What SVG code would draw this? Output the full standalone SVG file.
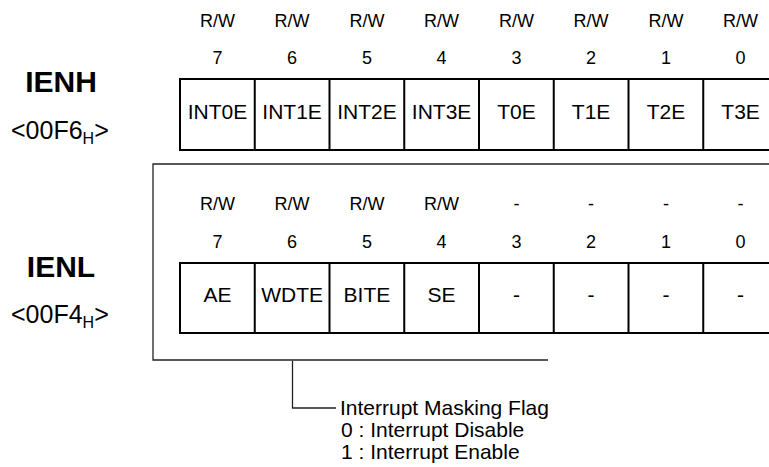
<svg xmlns="http://www.w3.org/2000/svg" width="769" height="467" viewBox="0 0 769 467">
<style>
text{font-family:"Liberation Sans",Arial,sans-serif;fill:#000}
.lbl{font-size:18px;text-anchor:middle}
.cell{font-size:21px;text-anchor:middle}
.title{font-size:30px;font-weight:bold;text-anchor:middle}
.addr{font-size:25px}
.cap{font-size:21px}
.box{fill:#fff;stroke:#000;stroke-width:2}
.div{stroke:#000;stroke-width:2}
.thin{fill:none;stroke:#222;stroke-width:1.3}
</style>
<rect width="769" height="467" fill="#fff"/>
<g id="IENH">
<text class="title" x="61" y="92">IENH</text>
<text class="addr" x="11" y="139">&lt;00F6<tspan font-size="16" dy="5">H</tspan><tspan dy="-5">&gt;</tspan></text>
<g class="lbl">
<text x="217.4" y="27">R/W</text><text x="292.1" y="27">R/W</text><text x="366.9" y="27">R/W</text><text x="441.6" y="27">R/W</text>
<text x="516.4" y="27">R/W</text><text x="591.1" y="27">R/W</text><text x="665.9" y="27">R/W</text><text x="740.6" y="27">R/W</text>
<text x="217.4" y="64">7</text><text x="292.1" y="64">6</text><text x="366.9" y="64">5</text><text x="441.6" y="64">4</text>
<text x="516.4" y="64">3</text><text x="591.1" y="64">2</text><text x="665.9" y="64">1</text><text x="740.6" y="64">0</text>
</g>
<rect class="box" x="180" y="79" width="598" height="71"/>
<path class="div" d="M254.75 79V150M329.5 79V150M404.25 79V150M479 79V150M553.75 79V150M628.5 79V150M703.25 79V150"/>
<g class="cell">
<text x="217.4" y="119">INT0E</text><text x="292.1" y="119">INT1E</text><text x="366.9" y="119">INT2E</text><text x="441.6" y="119">INT3E</text>
<text x="516.4" y="119">T0E</text><text x="591.1" y="119">T1E</text><text x="665.9" y="119">T2E</text><text x="740.6" y="119">T3E</text>
</g>
</g>
<g id="IENL">
<text class="title" x="61" y="277">IENL</text>
<text class="addr" x="11" y="323">&lt;00F4<tspan font-size="16" dy="5">H</tspan><tspan dy="-5">&gt;</tspan></text>
<g class="lbl">
<text x="217.4" y="210">R/W</text><text x="292.1" y="210">R/W</text><text x="366.9" y="210">R/W</text><text x="441.6" y="210">R/W</text>
<text x="516.4" y="210">-</text><text x="591.1" y="210">-</text><text x="665.9" y="210">-</text><text x="740.6" y="210">-</text>
<text x="217.4" y="248">7</text><text x="292.1" y="248">6</text><text x="366.9" y="248">5</text><text x="441.6" y="248">4</text>
<text x="516.4" y="248">3</text><text x="591.1" y="248">2</text><text x="665.9" y="248">1</text><text x="740.6" y="248">0</text>
</g>
<rect class="box" x="180" y="263" width="598" height="70"/>
<path class="div" d="M254.75 263V333M329.5 263V333M404.25 263V333M479 263V333M553.75 263V333M628.5 263V333M703.25 263V333"/>
<g class="cell">
<text x="217.4" y="302">AE</text><text x="292.1" y="302">WDTE</text><text x="366.9" y="302">BITE</text><text x="441.6" y="302">SE</text>
<text x="516.4" y="302">-</text><text x="591.1" y="302">-</text><text x="665.9" y="302">-</text><text x="740.6" y="302">-</text>
</g>
</g>
<g id="connectors">
<path class="thin" d="M769 164H153V360H548"/>
<path class="thin" d="M292.5 361V408H336"/>
</g>
<g id="caption" class="cap">
<text x="340" y="415">Interrupt Masking Flag</text>
<text x="341" y="437">0 : Interrupt Disable</text>
<text x="341" y="459">1 : Interrupt Enable</text>
</g>
</svg>
